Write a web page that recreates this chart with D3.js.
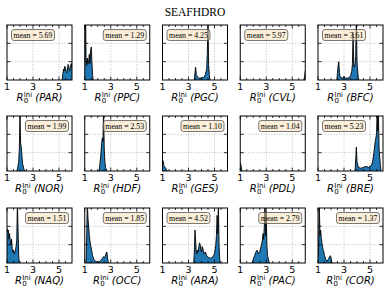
<!DOCTYPE html>
<html><head><meta charset="utf-8">
<script src="https://cdn.jsdelivr.net/npm/d3@7"></script>
<style>body{margin:0;background:#fff} svg{display:block}</style>
</head><body><svg id="c" width="390" height="292"></svg>
<script>
const title = "SEAFHDRO";
const regions = ["PAR","PPC","PGC","CVL","BFC","NOR","HDF","GES","PDL","BRE","NAQ","OCC","ARA","PAC","COR"];
const means = ["5.69","1.29","4.25","5.97","3.61","1.99","2.53","1.10","1.04","5.23","1.51","1.85","4.52","2.79","1.37"];
const xTickLabels = [1, 3, 5];
const xMinorTicks = [1.5, 2, 2.5, 3.5, 4, 4.5, 5.5];
const yGridTicks = [1, 2];

// density curves [R0, density]
const dPAR = [[5.25,0],[5.3,0.35],[5.35,0.6],[5.4,0.5],[5.45,0.75],[5.5,0.65],[5.55,0.45],[5.6,0.4],[5.65,0.6],[5.7,0.85],[5.75,0.75],[5.8,0.5],[5.85,0.55],[5.9,0.8],[5.95,0.9],[6.0,0.7]];
const dPPC = [[1.0,1.0],[1.03,3.4],[1.07,3.4],[1.1,1.2],[1.15,0.8],[1.2,1.2],[1.25,0.9],[1.3,1.0],[1.35,1.4],[1.4,0.9],[1.45,1.6],[1.5,1.8],[1.55,1.0],[1.6,0.3],[1.65,0]];
const dPGC = [[3.45,0],[3.5,0.4],[3.55,0.7],[3.6,0.3],[3.7,0.15],[3.8,0.1],[4.0,0.12],[4.2,0.15],[4.3,0.3],[4.4,0.6],[4.45,1.5],[4.5,3.3],[4.55,0.8],[4.6,0.3],[4.65,0]];
const dCVL = [[5.9,0],[5.95,0.2],[6.0,0.5]];
const dBFC = [[2.45,0],[2.5,0.4],[2.55,0.8],[2.6,1.0],[2.65,0.4],[2.7,0.15],[2.9,0.1],[3.0,0.2],[3.1,0.1],[3.3,0.1],[3.5,0.2],[3.6,0.5],[3.65,0.9],[3.7,2.6],[3.75,0.8],[3.8,0.7],[3.85,0.9],[3.9,1.3],[3.95,3.3],[4.0,1.0],[4.05,0.5],[4.1,0.1],[4.15,0]];
const dNOR = [[1.75,0],[1.8,0.1],[1.85,0.3],[1.9,0.5],[1.95,1.2],[2.0,3.3],[2.05,1.5],[2.1,1.3],[2.15,0.8],[2.2,0.4],[2.3,0.1],[2.4,0]];
const dHDF = [[2.1,0],[2.15,0.3],[2.2,0.6],[2.25,1.0],[2.3,1.5],[2.35,1.8],[2.4,1.6],[2.45,3.3],[2.5,1.2],[2.55,0.5],[2.6,0.2],[2.7,0]];
const dGES = [[1.0,0.6],[1.05,0.55],[1.1,0.3],[1.15,0.25],[1.2,0.2],[1.25,0.15],[1.3,0.1],[1.35,0]];
const dPDL = [[1.0,0.45],[1.05,0.35],[1.1,0.1],[1.15,0]];
const dBRE = [[3.85,0],[3.9,0.6],[3.95,1.3],[4.0,0.5],[4.1,0.2],[4.3,0.15],[4.5,0.2],[4.7,0.25],[4.9,0.2],[5.1,0.3],[5.2,0.5],[5.3,1.0],[5.4,1.6],[5.5,2.0],[5.55,3.2],[5.6,2.2],[5.65,3.0],[5.7,1.2],[5.8,0.3],[5.85,0]];
const dNAQ = [[1.0,1.9],[1.05,1.7],[1.1,1.8],[1.15,1.3],[1.2,1.6],[1.25,1.2],[1.3,1.0],[1.35,1.3],[1.4,0.8],[1.45,0.6],[1.5,0.7],[1.55,0.5],[1.6,0.6],[1.65,0.7],[1.7,0.9],[1.75,1.2],[1.8,3.3],[1.85,1.8],[1.9,0.4],[1.95,0]];
const dOCC = [[1.1,0],[1.15,1.5],[1.2,3.3],[1.25,2.4],[1.3,2.0],[1.35,1.5],[1.4,1.2],[1.5,0.8],[1.6,0.4],[1.7,0.2],[1.8,0.1],[2.0,0.05],[2.2,0.1],[2.35,0.25],[2.45,0.35],[2.55,0.3],[2.65,0.55],[2.7,0.6],[2.75,0.3],[2.8,0.05],[2.85,0]];
const dARA = [[3.4,0],[3.45,0.6],[3.5,1.8],[3.55,1.2],[3.6,0.6],[3.65,0.5],[3.7,0.7],[3.75,0.6],[3.8,0.9],[3.85,1.1],[3.9,1.0],[3.95,0.7],[4.0,0.6],[4.05,0.9],[4.1,0.8],[4.2,0.5],[4.3,0.6],[4.4,0.4],[4.5,0.3],[4.6,0.3],[4.7,0.25],[4.8,0.3],[4.9,0.35],[5.0,0.5],[5.1,1.0],[5.15,1.5],[5.2,2.6],[5.25,1.6],[5.3,3.3],[5.35,1.0],[5.4,0.2],[5.45,0]];
const dPAC = [[1.9,0],[2.0,0.2],[2.1,0.4],[2.2,0.6],[2.3,0.7],[2.4,0.5],[2.5,0.6],[2.6,0.9],[2.7,1.2],[2.75,1.6],[2.8,1.3],[2.85,2.0],[2.9,3.3],[2.95,1.5],[3.0,2.8],[3.05,1.0],[3.1,0.4],[3.2,0.1],[3.25,0]];
const dCOR = [[1.0,0.3],[1.05,0.8],[1.1,3.3],[1.15,1.5],[1.2,1.8],[1.25,1.4],[1.3,1.1],[1.35,0.9],[1.4,0.7],[1.45,0.6],[1.5,0.4],[1.6,0.2],[1.7,0.1],[1.8,0.2],[1.9,0.35],[1.95,0.4],[2.0,0.3],[2.05,0.1],[2.1,0]];
const densities = [dPAR,dPPC,dPGC,dCVL,dBFC,dNOR,dHDF,dGES,dPDL,dBRE,dNAQ,dOCC,dARA,dPAC,dCOR];

const svg = d3.select("#c");
svg.append("text").attr("x",195).attr("y",15.5).attr("text-anchor","middle")
  .attr("font-family","Liberation Serif, DejaVu Serif, serif").attr("font-size",11.5).text(title);

const W = 65, H = 55;
const colX = i => 7 + i*77.75;
const rowY = [25, 116, 208];
const defs = svg.append("defs");

regions.forEach((reg, k) => {
  const c = k % 5, r = Math.floor(k/5);
  const L = colX(c), T = rowY[r];
  const x = d3.scaleLinear().domain([1,6]).range([L, L+W]);
  const y = d3.scaleLinear().domain([0,3]).range([T+H, T]);
  const g = svg.append("g");
  defs.append("clipPath").attr("id","cp"+k).append("rect").attr("x",L).attr("y",T).attr("width",W).attr("height",H);

  // grid
  const grid = g.append("g").attr("stroke","#b0b0b0").attr("stroke-width",0.8).attr("stroke-dasharray","1,1.6");
  [3,5].forEach(v => grid.append("line").attr("x1",x(v)).attr("x2",x(v)).attr("y1",T).attr("y2",T+H));
  yGridTicks.forEach(v => grid.append("line").attr("x1",L).attr("x2",L+W).attr("y1",y(v)).attr("y2",y(v)));

  const data = densities[k];
  const cg = g.append("g").attr("clip-path","url(#cp"+k+")");
  cg.append("path").datum(data).attr("fill","#1f77b4")
    .attr("d", d3.area().x(d=>x(d[0])).y0(y(0)).y1(d=>y(d[1])));
  cg.append("path").datum(data).attr("fill","none").attr("stroke","#000").attr("stroke-width",0.9)
    .attr("d", d3.line().x(d=>x(d[0])).y(d=>y(d[1])));

  // ticks (inward, all sides)
  const tk = g.append("g").attr("stroke","#000").attr("stroke-width",0.8);
  xTickLabels.forEach(v => {
    tk.append("line").attr("x1",x(v)).attr("x2",x(v)).attr("y1",T+H).attr("y2",T+H-3.5);
    tk.append("line").attr("x1",x(v)).attr("x2",x(v)).attr("y1",T).attr("y2",T+3.5);
  });
  xMinorTicks.forEach(v => {
    tk.append("line").attr("x1",x(v)).attr("x2",x(v)).attr("y1",T+H).attr("y2",T+H-2);
    tk.append("line").attr("x1",x(v)).attr("x2",x(v)).attr("y1",T).attr("y2",T+2);
  });
  yGridTicks.forEach(v => {
    tk.append("line").attr("x1",L).attr("x2",L+3.5).attr("y1",y(v)).attr("y2",y(v));
    tk.append("line").attr("x1",L+W).attr("x2",L+W-3.5).attr("y1",y(v)).attr("y2",y(v));
  });
  g.append("rect").attr("x",L).attr("y",T).attr("width",W).attr("height",H)
    .attr("fill","none").attr("stroke","#000").attr("stroke-width",1);

  // tick labels
  xTickLabels.forEach(v => {
    g.append("text").attr("x",x(v)).attr("y",T+H+9.5).attr("text-anchor","middle")
      .attr("font-family","DejaVu Sans, sans-serif").attr("font-size",9.5).text(v);
  });

  // x label
  const lab = g.append("g");
  const ff = "DejaVu Sans, sans-serif";
  const base = T+H+21;
  const tR = lab.append("text").attr("y",base).attr("font-family",ff).attr("font-size",10).attr("font-style","italic").text("R");
  const wR = tR.node().getComputedTextLength();
  const tSub = lab.append("text").attr("x",wR+0.3).attr("y",base+2.2).attr("font-family",ff).attr("font-size",7).text("0");
  const tSup = lab.append("text").attr("x",wR+0.3).attr("y",base-4.3).attr("font-family",ff).attr("font-size",7).text("Ini");
  const wS = Math.max(tSub.node().getComputedTextLength(), tSup.node().getComputedTextLength());
  const tN = lab.append("text").attr("x",wR+0.3+wS).attr("y",base).attr("font-family",ff).attr("font-size",10).attr("font-style","italic").text("\u00a0(" + reg + ")");
  const wTot = wR+0.3+wS+tN.node().getComputedTextLength();
  lab.attr("transform","translate(" + (L+W/2-wTot/2) + ",0)");

  // mean box
  const bw = 43, bh = 11;
  const onLeft = +means[k] > 3.5;
  const bx = onLeft ? L+4.5 : L+W-3.5-bw;
  const by = T+4.5;
  g.append("rect").attr("x",bx).attr("y",by).attr("width",bw).attr("height",bh).attr("rx",2.5)
    .attr("fill","#f5deb3").attr("fill-opacity",0.5).attr("stroke","#444").attr("stroke-width",0.7);
  g.append("text").attr("x",bx+bw/2).attr("y",by+bh/2+2.7).attr("text-anchor","middle")
    .attr("font-family","Liberation Serif, DejaVu Serif, serif").attr("font-size",7.8).text("mean = " + means[k]);
});
</script></body></html>
